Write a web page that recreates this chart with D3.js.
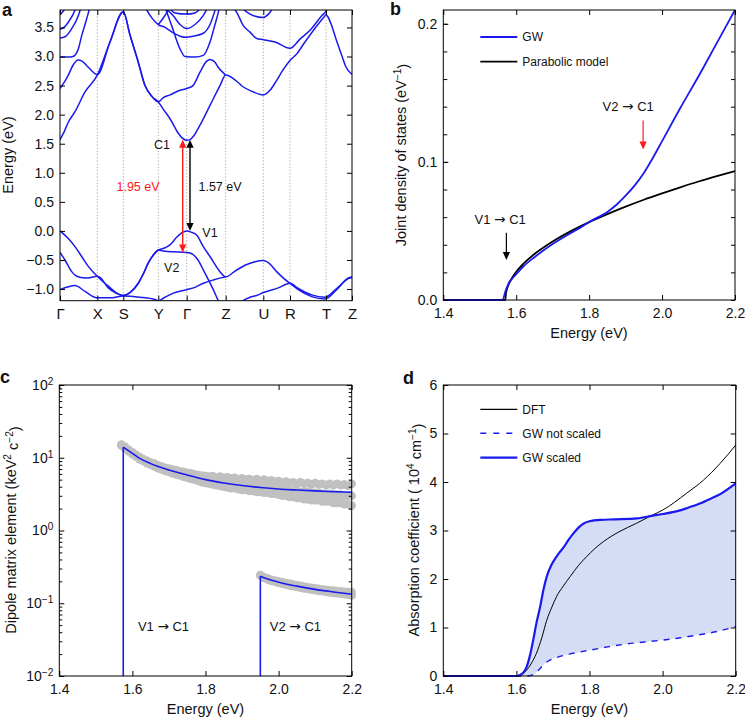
<!DOCTYPE html>
<html><head><meta charset="utf-8">
<script src="https://cdn.jsdelivr.net/npm/d3@7"></script>
<style>
body{margin:0;background:#fff}
text{font-family:"Liberation Sans",Arial,Helvetica,sans-serif;fill:#111}
</style></head>
<body><svg id="c" width="745" height="718"></svg>
<script>
// ================= DATA =================
// Panel a: band structure (k = path coordinate, E in eV)
const kLabels=["Γ","X","S","Y","Γ","Z","U","R","T","Z"];
const kPos=[0,37.3,63.3,98.3,126.7,165.7,203.3,230,266,292];
const energyTicksA=[-1.0,-0.5,0.0,0.5,1.0,1.5,2.0,2.5,3.0,3.5];
const bandC1=[[0,1.57],[4,1.7],[8.3,1.87],[15,2.05],[25,2.39],[37.3,2.68],[50,3.25],[63.3,3.77],[70,3.37],[78,2.92],[85,2.5],[92,2.31],[98.3,2.22],[103,2.1],[110,1.93],[118.3,1.68],[122,1.6],[126.7,1.56],[130,1.57],[133,1.62],[140,1.82],[150,2.16],[160,2.5],[165.7,2.68],[175,2.6],[183,2.48],[192,2.4],[203.3,2.34],[210,2.42],[216.7,2.59],[223,2.77],[230,2.93],[237,3.05],[245,3.25],[258.3,3.56],[264,3.68],[266,3.72],[268,3.68],[271.7,3.53],[276,3.3],[281.7,3.02],[286,2.82],[292,2.69]];
const bandC2=[[0,2.45],[4,2.55],[8.3,2.68],[13,2.85],[18,2.94],[22,2.92],[28,2.82],[37.3,2.69],[50,3.25],[63.3,3.77],[70,3.37],[78,2.92],[85,2.5],[92,2.31],[98.3,2.22],[103,2.29],[110,2.34],[120,2.42],[126.7,2.45],[133,2.5],[140,2.73],[146.7,2.92],[150,2.95],[155,2.9],[158,2.82],[165.7,2.68]];
const bandC3=[[0,2.99],[8,2.99],[13,3.0],[15,3.02],[18.3,3.13],[21.7,3.36],[26.7,3.65],[29,3.8],[30,3.9]];
const bandC4=[[0,3.32],[5,3.34],[11.7,3.48],[18.3,3.7],[21,3.85]];
const bandC5=[[0,3.47],[4,3.5],[8.3,3.59],[15,3.8],[16,3.85]];
const bandC6=[[0,3.72],[4,3.8],[6,3.86]];
const bandC7=[[104,3.9],[111.7,3.53],[120,3.13],[125,3.0],[135,2.99],[143.3,3.02],[150,3.25],[155,3.55],[158.3,3.76],[160,3.9]];
const bandC8=[[85,3.85],[92,3.66],[98.3,3.55],[105,3.5],[112,3.42],[120,3.35],[126.7,3.33],[133,3.35],[143.3,3.4],[150,3.55],[156,3.85]];
const bandC9=[[98.3,3.55],[104,3.68],[110,3.85]];
const bandC10=[[104,3.85],[113.3,3.7],[120,3.55],[126.7,3.48],[135,3.55],[143,3.7],[148,3.85]];
const bandC11=[[108,3.86],[115,3.75],[126.7,3.73],[135,3.75],[142,3.86]];
const bandC12=[[180,3.86],[190,3.73],[203.3,3.67],[208,3.72],[214,3.86]];
const bandC13=[[168,3.9],[176.7,3.76],[183.3,3.53],[190,3.42],[196.7,3.31],[203.3,3.29],[215,3.25],[230,3.14],[240,3.3],[250,3.45],[261.7,3.7],[266,3.78],[268,3.86]];
const bandV1=[[0,0],[8.3,-0.13],[15,-0.27],[21.7,-0.44],[28.3,-0.61],[36.7,-0.77],[48.3,-0.95],[56,-1.06],[63.3,-1.11],[70,-1.06],[78.3,-0.9],[83,-0.75],[88.3,-0.55],[94,-0.4],[98.3,-0.33],[105,-0.29],[110,-0.24],[116.7,-0.11],[122,-0.03],[126.7,0],[131,-0.02],[136.7,-0.07],[143.3,-0.27],[150,-0.44],[160,-0.7],[165.7,-0.79],[175,-0.69],[185,-0.59],[195,-0.53],[203.3,-0.51],[210,-0.57],[216.7,-0.7],[224,-0.82],[230,-0.9],[238.3,-1.01],[251.7,-1.13],[265,-1.17],[276.7,-1.01],[288.3,-0.81],[292,-0.79]];
const bandV2=[[0,-0.37],[5,-0.5],[11.7,-0.7],[16.7,-0.78],[25,-0.81],[31,-0.8],[36.7,-0.78],[40,-0.8],[48.3,-0.98],[56,-1.07],[63.3,-1.11],[70,-1.06],[78.3,-0.9],[83,-0.75],[88.3,-0.55],[94,-0.4],[98.3,-0.33],[105,-0.35],[113.3,-0.36],[126.7,-0.37],[130,-0.38],[133.3,-0.41],[138,-0.5],[143.3,-0.67],[153.3,-1.01],[158.3,-1.2],[165,-1.35],[175,-1.32],[183,-1.2],[190,-1.14],[196.7,-1.11],[203.3,-1.06],[218.3,-0.98],[230,-0.9],[238.3,-0.99],[251.7,-1.1],[265,-1.14],[276.7,-0.99],[288.3,-0.82],[292,-0.8]];
const bandV3=[[0,-1.01],[8.3,-0.96],[15,-0.94],[25,-1.04],[36.7,-1.15],[50,-1.15],[63.3,-1.12],[80,-1.14],[95,-1.18],[98.3,-1.2],[105,-1.14],[113.3,-1.07],[126.7,-1.01],[135,-0.97],[143.3,-0.9],[154,-0.84],[165.7,-0.79]];
const bands=[bandC1,bandC2,bandC3,bandC4,bandC5,bandC6,bandC7,bandC8,bandC9,bandC10,bandC11,bandC12,bandC13,bandV1,bandV2,bandV3];
// gap arrows (k, from E, to E)
const gapArrows=[{k:122.7,e0:1.57,e1:-0.37,c:"red"},{k:130,e0:1.57,e1:0.0,c:"black"}];
const labelsA=[{t:"C1",k:102,e:1.49,c:"black"},{t:"1.95 eV",k:78,e:0.76,c:"red"},{t:"1.57 eV",k:160,e:0.76,c:"black"},{t:"V1",k:150,e:-0.03,c:"black"},{t:"V2",k:111.7,e:-0.63,c:"black"}];

// Panel b: joint density of states
const gwE=[1.4,1.563,1.567,1.57,1.575,1.58,1.59,1.60,1.62,1.65,1.70,1.75,1.78,1.80,1.85,1.875,1.90,1.925,1.95,1.975,2.00,2.05,2.10,2.15,2.20];
const gwJ=[0,0,0.003,0.006,0.0095,0.0125,0.0158,0.0187,0.0244,0.031,0.0405,0.0485,0.053,0.0565,0.0638,0.069,0.0755,0.083,0.092,0.103,0.115,0.139,0.162,0.186,0.210];
const parE=[1.4,1.57,1.572,1.575,1.58,1.59,1.60,1.62,1.65,1.70,1.75,1.80,1.85,1.90,1.95,2.00,2.05,2.10,2.15,2.20];
const parJ=[0,0,0.005,0.0083,0.0118,0.0166,0.0204,0.0263,0.0333,0.0424,0.0499,0.0564,0.0622,0.0676,0.0726,0.0772,0.0816,0.0858,0.0897,0.0934];
const energyTicks=[1.4,1.6,1.8,2.0,2.2];
const jdosTicks=[0,0.1,0.2];

// Panel c: dipole matrix elements
const dipV1E=[1.575,1.60,1.62,1.65,1.70,1.75,1.80,1.85,1.90,1.95,2.00,2.05,2.10,2.15,2.20];
const dipV1=[14,11.5,9.8,8.3,6.8,5.8,5.0,4.5,4.15,3.9,3.72,3.6,3.5,3.42,3.35];
const dipV2E=[1.95,1.97,2.00,2.05,2.10,2.15,2.20];
const dipV2=[0.235,0.215,0.195,0.172,0.155,0.143,0.133];
// scatter rows: [E, low, mid, high]
const dotsV1=[[1.57,15.0,14.6,15.2],[1.58,13.4,13.8,14.1],[1.59,12.2,12.6,12.9],[1.60,11.2,11.6,11.9],[1.61,10.3,10.7,11.0],[1.62,9.5,9.8,10.2],[1.63,9.0,9.3,9.6],[1.64,8.4,8.8,9.1],[1.65,8.0,8.3,8.6],[1.66,7.6,7.9,8.3],[1.67,7.2,7.6,7.9],[1.68,6.9,7.2,7.6],[1.69,6.6,6.9,7.3],[1.70,6.4,6.7,7.1],[1.71,6.1,6.5,6.9],[1.72,5.9,6.3,6.8],[1.73,5.7,6.1,6.5],[1.74,5.5,5.9,6.4],[1.75,5.3,5.7,6.2],[1.76,5.1,5.6,6.1],[1.77,5.0,5.4,5.9],[1.78,4.8,5.3,5.8],[1.79,4.6,5.1,5.7],[1.80,4.5,5.0,5.6],[1.81,4.4,4.9,5.5],[1.82,4.3,4.8,5.6],[1.83,4.2,4.7,5.4],[1.84,4.1,4.6,5.5],[1.85,4.0,4.5,5.3],[1.86,3.9,4.5,5.4],[1.87,3.8,4.4,5.2],[1.88,3.8,4.3,5.3],[1.89,3.7,4.3,5.1],[1.90,3.6,4.2,5.2],[1.91,3.6,4.1,5.0],[1.92,3.5,4.1,5.1],[1.93,3.5,4.0,4.9],[1.94,3.4,4.0,5.1],[1.95,3.4,3.9,4.8],[1.96,3.3,3.9,5.0],[1.97,3.3,3.8,4.8],[1.98,3.2,3.8,4.9],[1.99,3.2,3.7,4.7],[2.00,3.1,3.7,4.8],[2.01,3.0,3.6,4.6],[2.02,3.0,3.6,4.7],[2.03,2.9,3.5,4.5],[2.04,2.9,3.5,4.6],[2.05,2.8,3.5,4.4],[2.06,2.8,3.4,4.6],[2.07,2.7,3.4,4.4],[2.08,2.7,3.4,4.5],[2.09,2.6,3.3,4.3],[2.10,2.6,3.3,4.5],[2.11,2.6,3.3,4.3],[2.12,2.5,3.2,4.4],[2.13,2.5,3.2,4.2],[2.14,2.5,3.2,4.4],[2.15,2.4,3.1,4.2],[2.16,2.4,3.1,4.4],[2.17,2.4,3.1,4.2],[2.18,2.3,3.0,4.3],[2.19,2.3,3.0,4.1],[2.20,2.2,3.0,4.4]];
const dotsV2=[[1.95,0.24,0.245],[1.96,0.222,0.23],[1.97,0.212,0.22],[1.98,0.203,0.21],[1.99,0.197,0.205],[2.00,0.19,0.2],[2.01,0.186,0.195],[2.02,0.18,0.19],[2.03,0.176,0.186],[2.04,0.172,0.181],[2.05,0.168,0.178],[2.06,0.164,0.174],[2.07,0.16,0.17],[2.08,0.157,0.166],[2.09,0.154,0.163],[2.10,0.151,0.16],[2.11,0.148,0.158],[2.12,0.146,0.155],[2.13,0.143,0.153],[2.14,0.141,0.151],[2.15,0.139,0.149],[2.16,0.137,0.147],[2.17,0.135,0.146],[2.18,0.133,0.144],[2.19,0.131,0.143],[2.20,0.128,0.142]];
const dipDecades=[-2,-1,0,1,2];

// Panel d: absorption coefficient (10^4 cm^-1)
const dftAbs=[[1.4,0],[1.6,0],[1.61,0.02],[1.62,0.06],[1.628,0.12],[1.64,0.25],[1.655,0.47],[1.67,0.8],[1.683,1.15],[1.697,1.42],[1.71,1.64],[1.728,1.85],[1.747,2.05],[1.77,2.28],[1.792,2.46],[1.815,2.63],[1.838,2.77],[1.88,2.97],[1.929,3.15],[1.97,3.31],[2.0,3.42],[2.066,3.77],[2.112,4.04],[2.157,4.38],[2.2,4.76]];
const gwScaled=[[1.4,0],[1.6,0],[1.61,0.02],[1.62,0.08],[1.628,0.19],[1.637,0.42],[1.646,0.74],[1.655,1.1],[1.665,1.43],[1.674,1.78],[1.683,2.05],[1.695,2.28],[1.706,2.42],[1.717,2.54],[1.728,2.64],[1.742,2.8],[1.756,2.94],[1.77,3.06],[1.783,3.14],[1.8,3.19],[1.83,3.22],[1.87,3.23],[1.93,3.25],[1.97,3.3],[2.0,3.34],[2.04,3.4],[2.066,3.46],[2.1,3.55],[2.13,3.65],[2.16,3.76],[2.2,3.97]];
const gwNotScaled=[[1.4,0],[1.63,0],[1.646,0.03],[1.66,0.12],[1.673,0.22],[1.685,0.3],[1.71,0.38],[1.75,0.46],[1.792,0.52],[1.85,0.6],[1.9,0.66],[1.95,0.7],[2.0,0.74],[2.05,0.79],[2.1,0.85],[2.15,0.92],[2.2,1.02]];
const absTicks=[0,1,2,3,4,5,6];

// ================= DRAWING =================
const svg=d3.select("#c");
svg.append("rect").attr("width",745).attr("height",718).attr("fill","#fff");
const BLUE="#1a1aee", RED="#ff1a1a";
const TICKFS=14, TITLEFS=14.5;

function panel(x0,y0,x1,y1){
  return {g:svg.append("g").attr("transform",`translate(${x0},${y0})`),w:x1-x0,h:y1-y0};
}
function styleAxis(sel,fs){
  sel.select(".domain").remove();
  sel.selectAll(".tick line").attr("stroke","#000").attr("stroke-width",1);
  sel.selectAll("text").attr("font-size",fs||TICKFS).attr("fill","#111");
  return sel;
}
function frame(p){
  p.g.append("rect").attr("width",p.w).attr("height",p.h).attr("fill","none").attr("stroke","#000").attr("stroke-width",1);
}
function sup(sel,parts){
  parts.forEach(([t,s])=>{
    if(s==="up") sel.append("tspan").attr("dy","-0.45em").attr("font-size","0.7em").text(t);
    else if(s==="down") sel.append("tspan").attr("dy","0.45em").text(t);
    else sel.append("tspan").text(t);
  });
}
function transText(g,x,y,from,to,anchor){
  const t=g.append("text").attr("x",x).attr("y",y).attr("dy","0.35em").attr("text-anchor",anchor).attr("font-size",13);
  t.append("tspan").text(from+" ");
  t.append("tspan").style("font-family","'DejaVu Sans',sans-serif").attr("font-size","1.05em").text("→");
  t.append("tspan").text(" "+to);
  return t;
}
function yTitle(x,y,parts){
  const t=svg.append("text").attr("transform",`translate(${x},${y}) rotate(-90)`).attr("text-anchor","middle").attr("font-size",TITLEFS);
  sup(t,parts);
}
function xTitle(x,y,txt){
  svg.append("text").attr("x",x).attr("y",y).attr("text-anchor","middle").attr("font-size",TITLEFS).text(txt);
}
function panelLetter(x,y,t){
  svg.append("text").attr("x",x).attr("y",y).attr("font-size",18).attr("font-weight","bold").attr("fill","#000").text(t);
}
function arrowHead(g,x,y,dir,color){ // dir: -1 up, +1 down (tip at x,y)
  const L=8,Wd=3.6;
  g.append("path").attr("d",`M${x},${y}L${x-Wd},${y-dir*L}L${x+Wd},${y-dir*L}Z`).attr("fill",color);
}
function xEnergyAxes(p,x){
  p.g.append("g").attr("transform",`translate(0,${p.h})`).call(d3.axisBottom(x).tickValues(energyTicks).tickSize(-5).tickPadding(8).tickFormat(d3.format(".1f"))).call(styleAxis);
  p.g.append("g").call(d3.axisTop(x).tickValues(energyTicks).tickSize(-5).tickFormat("")).call(styleAxis);
}

// ---------- Panel a ----------
{
  const p=panel(60,10,352,300.7);
  const x=d3.scaleLinear().domain([0,292]).range([0,p.w]);
  const y=d3.scaleLinear().domain([-1.2,3.8]).range([p.h,0]);
  p.g.selectAll("line.kl").data(kPos.slice(1,-1)).join("line").attr("class","kl")
    .attr("x1",d=>x(d)).attr("x2",d=>x(d)).attr("y1",0).attr("y2",p.h)
    .attr("stroke","#9a9a9a").attr("stroke-width",0.9).attr("stroke-dasharray","1.2,2");
  p.g.append("clipPath").attr("id","clipA").append("rect").attr("width",p.w).attr("height",p.h);
  const line=d3.line().x(d=>x(d[0])).y(d=>y(d[1])).curve(d3.curveMonotoneX);
  p.g.append("g").attr("clip-path","url(#clipA)").selectAll("path").data(bands).join("path")
    .attr("d",line).attr("fill","none").attr("stroke",BLUE).attr("stroke-width",1.5);
  p.g.append("g").call(d3.axisLeft(y).tickValues(energyTicksA).tickSize(-5).tickPadding(6).tickFormat(d3.format(".1f"))).call(styleAxis);
  p.g.append("g").attr("transform",`translate(${p.w},0)`).call(d3.axisRight(y).tickValues(energyTicksA).tickSize(-5).tickFormat("")).call(styleAxis);
  p.g.append("g").attr("transform",`translate(0,${p.h})`).call(d3.axisBottom(x).tickValues(kPos).tickSize(-5).tickPadding(8).tickFormat((d,i)=>kLabels[i])).call(styleAxis,15);
  p.g.append("g").call(d3.axisTop(x).tickValues(kPos).tickSize(-5).tickFormat("")).call(styleAxis);
  frame(p);
  gapArrows.forEach(a=>{
    const xx=x(a.k), ya=y(a.e0), yb=y(a.e1);
    const col=a.c==="red"?RED:"#000";
    p.g.append("line").attr("x1",xx).attr("x2",xx).attr("y1",ya+7).attr("y2",yb-7).attr("stroke",col).attr("stroke-width",1.4);
    arrowHead(p.g,xx,ya,-1,col);
    arrowHead(p.g,xx,yb,1,col);
  });
  labelsA.forEach(l=>{
    p.g.append("text").attr("x",x(l.k)).attr("y",y(l.e)).attr("dy","0.35em").attr("text-anchor","middle")
      .attr("font-size",12.5).style("fill",l.c==="red"?RED:"#111").text(l.t);
  });
  yTitle(13,155,[["Energy (eV)",""]]);
  panelLetter(2,16,"a");
}

// ---------- Panel b ----------
{
  const p=panel(443.3,10,735,300);
  const x=d3.scaleLinear().domain([1.4,2.2]).range([0,p.w]);
  const y=d3.scaleLinear().domain([0,0.21]).range([p.h,0]);
  const lineP=d3.line().x((d,i)=>x(parE[i])).y(d=>y(d)).curve(d3.curveMonotoneX);
  const lineG=d3.line().x((d,i)=>x(gwE[i])).y(d=>y(d)).curve(d3.curveMonotoneX);
  p.g.append("path").attr("d",lineP(parJ)).attr("fill","none").attr("stroke","#000").attr("stroke-width",1.8);
  p.g.append("path").attr("d",lineG(gwJ)).attr("fill","none").attr("stroke",BLUE).attr("stroke-width",1.8);
  const minorJ=d3.range(0,0.2001,0.02);
  p.g.append("g").call(d3.axisLeft(y).tickValues(jdosTicks).tickSize(-5).tickPadding(6).tickFormat(d3.format(".1f"))).call(styleAxis);
  p.g.append("g").call(d3.axisLeft(y).tickValues(minorJ).tickSize(-4).tickFormat("")).call(styleAxis);
  p.g.append("g").attr("transform",`translate(${p.w},0)`).call(d3.axisRight(y).tickValues(minorJ).tickSize(-4).tickFormat("")).call(styleAxis);
  xEnergyAxes(p,x);
  frame(p);
  const leg=[{t:"GW",c:BLUE,yy:27},{t:"Parabolic model",c:"#000",yy:51.7}];
  leg.forEach(l=>{
    p.g.append("line").attr("x1",37).attr("x2",74).attr("y1",l.yy).attr("y2",l.yy).attr("stroke",l.c).attr("stroke-width",1.8);
    p.g.append("text").attr("x",79).attr("y",l.yy).attr("dy","0.35em").attr("font-size",12).text(l.t);
  });
  transText(p.g,x(1.556),y(0.058),"V1","C1","middle");
  p.g.append("line").attr("x1",x(1.573)).attr("x2",x(1.573)).attr("y1",y(0.0487)).attr("y2",y(0.029)-6).attr("stroke","#000").attr("stroke-width",1.2);
  arrowHead(p.g,x(1.573),y(0.029),1,"#000");
  transText(p.g,x(1.907),y(0.14),"V2","C1","middle");
  p.g.append("line").attr("x1",x(1.948)).attr("x2",x(1.948)).attr("y1",y(0.13)).attr("y2",y(0.109)-6).attr("stroke",RED).attr("stroke-width",1.2);
  arrowHead(p.g,x(1.948),y(0.109),1,RED);
  yTitle(406,155,[["Joint density of states (eV",""],["−1","up"],[")","down"]]);
  xTitle(589,338,"Energy (eV)");
  panelLetter(390,15,"b");
}

// ---------- Panel c ----------
{
  const p=panel(59.3,385,351.7,676);
  const x=d3.scaleLinear().domain([1.4,2.2]).range([0,p.w]);
  const y=d3.scaleLog().domain([1e-2,1e2]).range([p.h,0]);
  const pts=[];
  dotsV1.forEach(r=>{pts.push([r[0],r[1]],[r[0],r[3]],[r[0],r[2]]);});
  dotsV2.forEach(r=>{pts.push([r[0],r[1]],[r[0],r[2]]);});
  p.g.append("g").selectAll("circle").data(pts).join("circle")
    .attr("cx",d=>x(d[0])).attr("cy",d=>y(d[1])).attr("r",4.3).attr("fill","#c0c0c0");
  const line=d3.line().x(d=>x(d[0])).y(d=>y(d[1])).curve(d3.curveMonotoneX);
  const v1=dipV1E.map((e,i)=>[e,dipV1[i]]), v2=dipV2E.map((e,i)=>[e,dipV2[i]]);
  [v1,v2].forEach(s=>{
    p.g.append("line").attr("x1",x(s[0][0])).attr("x2",x(s[0][0])).attr("y1",p.h).attr("y2",y(s[0][1])).attr("stroke",BLUE).attr("stroke-width",1.6);
    p.g.append("path").attr("d",line(s)).attr("fill","none").attr("stroke",BLUE).attr("stroke-width",1.6);
  });
  const majors=dipDecades.map(d=>Math.pow(10,d));
  const minors=[];
  dipDecades.slice(0,-1).forEach(d=>{for(let m=2;m<10;m++) minors.push(m*Math.pow(10,d));});
  const la=p.g.append("g").call(d3.axisLeft(y).tickValues(majors).tickSize(-5).tickPadding(6).tickFormat(()=>"")).call(styleAxis);
  la.selectAll(".tick text").each(function(d){
    const e=Math.round(Math.log10(d));
    const t=d3.select(this);
    t.text(null);
    t.append("tspan").text("10");
    t.append("tspan").attr("dy","-0.5em").attr("font-size","0.72em").text(String(e).replace("-","−"));
  });
  p.g.append("g").call(d3.axisLeft(y).tickValues(minors).tickSize(-3).tickFormat("")).call(styleAxis);
  p.g.append("g").attr("transform",`translate(${p.w},0)`).call(d3.axisRight(y).tickValues(majors).tickSize(-5).tickFormat("")).call(styleAxis);
  p.g.append("g").attr("transform",`translate(${p.w},0)`).call(d3.axisRight(y).tickValues(minors).tickSize(-3).tickFormat("")).call(styleAxis);
  xEnergyAxes(p,x);
  frame(p);
  transText(p.g,x(1.615),y(0.0476),"V1","C1","start");
  transText(p.g,x(1.976),y(0.0476),"V2","C1","start");
  yTitle(16,530,[["Dipole matrix element (keV",""],["2","up"],[" c","down"],["−2","up"],[")","down"]]);
  xTitle(205.5,714,"Energy (eV)");
  panelLetter(0,383,"c");
}

// ---------- Panel d ----------
{
  const p=panel(443.3,385,735.7,676);
  const x=d3.scaleLinear().domain([1.4,2.2]).range([0,p.w]);
  const y=d3.scaleLinear().domain([0,6]).range([p.h,0]);
  const line=d3.line().x(d=>x(d[0])).y(d=>y(d[1])).curve(d3.curveMonotoneX);
  const top=line(gwScaled.filter(d=>d[0]>=1.6));
  const bot=line(gwNotScaled.filter(d=>d[0]>=1.6).slice().reverse());
  p.g.append("path").attr("d",top+"L"+bot.slice(1)+"Z").attr("fill","#d5dcf5").attr("stroke","none");
  p.g.append("path").attr("d",line(gwNotScaled)).attr("fill","none").attr("stroke",BLUE).attr("stroke-width",1.4).attr("stroke-dasharray","6,6");
  p.g.append("path").attr("d",line(dftAbs)).attr("fill","none").attr("stroke","#000").attr("stroke-width",1);
  p.g.append("path").attr("d",line(gwScaled)).attr("fill","none").attr("stroke",BLUE).attr("stroke-width",2.2);
  p.g.append("g").call(d3.axisLeft(y).tickValues(absTicks).tickSize(-5).tickPadding(6).tickFormat(d3.format("d"))).call(styleAxis);
  p.g.append("g").attr("transform",`translate(${p.w},0)`).call(d3.axisRight(y).tickValues(absTicks).tickSize(-5).tickFormat("")).call(styleAxis);
  xEnergyAxes(p,x);
  frame(p);
  const leg=[{t:"DFT",c:"#000",w:1.2,da:null,yy:24.3},{t:"GW not scaled",c:BLUE,w:1.4,da:"6,7",yy:48.3},{t:"GW scaled",c:BLUE,w:2.2,da:null,yy:72.7}];
  leg.forEach(l=>{
    p.g.append("line").attr("x1",37).attr("x2",74).attr("y1",l.yy).attr("y2",l.yy).attr("stroke",l.c).attr("stroke-width",l.w).attr("stroke-dasharray",l.da);
    p.g.append("text").attr("x",79).attr("y",l.yy).attr("dy","0.35em").attr("font-size",12).text(l.t);
  });
  yTitle(419,530,[["Absorption coefficient ( 10",""],["4","up"],[" cm","down"],["−1","up"],[")","down"]]);
  xTitle(589.5,714,"Energy (eV)");
  panelLetter(403,384,"d");
}
</script></body></html>
